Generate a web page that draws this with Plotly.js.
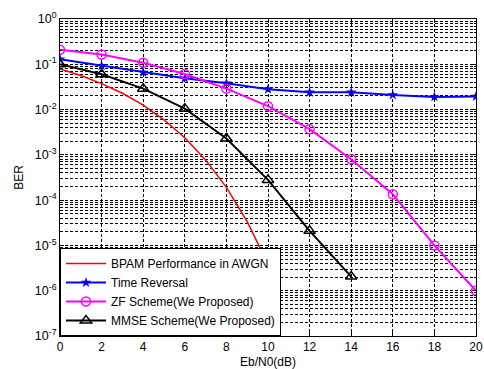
<!DOCTYPE html>
<html>
<head>
<meta charset="utf-8">
<script src="https://cdn.plot.ly/plotly-3.0.1.min.js"></script>
<style>html,body{margin:0;padding:0;background:#fff;}#chart{width:484px;height:369px;}</style>
</head>
<body>
<div id="chart"></div>
<script>
const snrAwgn = [0,1,2,3,4,5,6,7,8,9,10];
const berAwgn = [0.0786,0.0563,0.0375,0.0229,0.0125,0.00595,0.00239,0.000773,0.000191,0.0000336,0.00000387];
const snr = [0,2,4,6,8,10,12,14,16,18,20];
const berTR = [0.13,0.093,0.066,0.049,0.038,0.028,0.024,0.024,0.021,0.019,0.0195];
const berZF = [0.21,0.165,0.108,0.061,0.029,0.0119,0.0037,0.0008,0.000135,0.00001,0.000001];
const snrMMSE = [0,2,4,6,8,10,12,14];
const berMMSE = [0.1,0.06,0.029,0.0105,0.0023,0.00028,0.000021,0.00000205];
const names = ['BPAM Performance in AWGN','Time Reversal','ZF Scheme(We Proposed)','MMSE Scheme(We Proposed)'];
const decades = [-7,-6,-5,-4,-3,-2,-1,0];

const yTickVals = decades.map(e => Math.pow(10, e));
const yTickText = decades.map(e => '10<sup>' + e + '</sup>');
const yMinorVals = [];
for (let e = -7; e < 0; e++) {
  for (let m = 2; m <= 9; m++) yMinorVals.push(m * Math.pow(10, e));
}

const traces = [
  {x: snrAwgn, y: berAwgn, name: names[0], mode: 'lines', line: {color: '#ff0000', width: 1.5}},
  {x: snr, y: berTR, name: names[1], mode: 'lines+markers', line: {color: '#0000ff', width: 2},
   marker: {symbol: 'star', size: 8, color: '#0000ff'}},
  {x: snr, y: berZF, name: names[2], mode: 'lines+markers', line: {color: '#ff00ff', width: 2},
   marker: {symbol: 'circle-open', size: 9, color: '#ff00ff', line: {width: 1.5}}},
  {x: snrMMSE, y: berMMSE, name: names[3], mode: 'lines+markers', line: {color: '#000000', width: 2},
   marker: {symbol: 'triangle-up-open', size: 10, color: '#000000', line: {width: 1.5}}}
];

const gridStyle = {gridcolor: '#000', gridwidth: 1, griddash: '3px,2px'};

const layout = {
  width: 484, height: 369,
  margin: {l: 60, r: 8, t: 19, b: 33},
  paper_bgcolor: '#fff', plot_bgcolor: '#fff',
  font: {family: 'Liberation Sans, Arial, sans-serif', size: 12, color: '#000'},
  showlegend: true,
  legend: {x: 0, y: 0, xanchor: 'left', yanchor: 'bottom', bgcolor: '#fff', bordercolor: '#000', borderwidth: 1,
           font: {size: 12}, tracegroupgap: 0, itemwidth: 40},
  xaxis: Object.assign({
    range: [0, 20], dtick: 2, tick0: 0,
    showline: true, mirror: 'ticks', linecolor: '#000', linewidth: 1,
    ticks: 'inside', ticklen: 4, tickcolor: '#000',
    showgrid: true, zeroline: false,
    title: {text: 'Eb/N0(dB)', font: {size: 12}, standoff: 4},
    tickfont: {size: 12}
  }, gridStyle),
  yaxis: Object.assign({
    type: 'log', range: [-7, 0],
    tickmode: 'array', tickvals: yTickVals, ticktext: yTickText,
    showline: true, mirror: 'ticks', linecolor: '#000', linewidth: 1,
    ticks: 'inside', ticklen: 4, tickcolor: '#000',
    showgrid: true, zeroline: false,
    minor: Object.assign({tickmode: 'array', tickvals: yMinorVals, showgrid: true, ticks: 'inside', ticklen: 2, tickcolor: '#000'}, gridStyle),
    title: {text: 'BER', font: {size: 12}, standoff: 8},
    tickfont: {size: 12.5}
  }, gridStyle)
};

Plotly.newPlot('chart', traces, layout, {staticPlot: true, displayModeBar: false});
</script>
</body>
</html>
